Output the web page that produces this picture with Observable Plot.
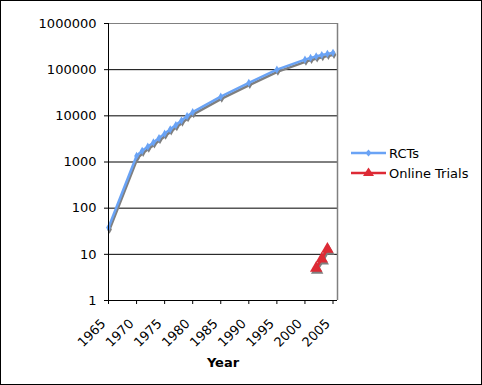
<!DOCTYPE html>
<html>
<head>
<meta charset="utf-8">
<script src="https://cdn.jsdelivr.net/npm/d3@7"></script>
<script src="https://cdn.jsdelivr.net/npm/@observablehq/plot@0.6"></script>
<style>
  html, body { margin: 0; padding: 0; background: #fff; }
  #wrap { position: relative; width: 482px; height: 385px; overflow: hidden; font-family: "DejaVu Sans", Verdana, sans-serif; }
  #border { position: absolute; left: 0; top: 0; width: 482px; height: 385px; box-sizing: border-box; border: 1px solid #000; pointer-events: none; }
  #legend { position: absolute; left: 350px; top: 143px; font-size: 13px; color: #000; }
  .item { display: flex; align-items: center; height: 20px; }
  .item svg { margin-right: 2px; }
</style>
</head>
<body>
<div id="wrap"><div id="border"></div></div>
<script>
// ---- data ----
const rctYears  = [1965, 1970, 1971, 1972, 1973, 1974, 1975, 1976, 1977, 1978, 1979, 1980, 1985, 1990, 1995, 2000, 2001, 2002, 2003, 2004, 2005];
const rctValues = [38, 1350, 1750, 2150, 2650, 3300, 4100, 5100, 6300, 7900, 9800, 12000, 26000, 52000, 100000, 165000, 180000, 193000, 207000, 220000, 232000];
const onlineYears  = [2002, 2003, 2004];
const onlineValues = [5, 8, 13];
const yTicks = [1, 10, 100, 1000, 10000, 100000, 1000000];
const xTicks = [1965, 1970, 1975, 1980, 1985, 1990, 1995, 2000, 2005];
const seriesNames = ["RCTs", "Online Trials"];
const seriesColors = ["#6aa3f5", "#dd2a35"];
const shadow = "#7f7f7f";

const rct = rctYears.map((y, i) => ({year: y, value: rctValues[i]}));
const online = onlineYears.map((y, i) => ({year: y, value: onlineValues[i]}));

const chart = Plot.plot({
  width: 482,
  height: 385,
  marginLeft: 108,
  marginRight: 145,
  marginTop: 23,
  marginBottom: 85,
  style: {fontFamily: "DejaVu Sans, Verdana, sans-serif", fontSize: "13px", color: "#000", background: "transparent"},
  x: {domain: [1965, 2005.8]},
  y: {type: "log", domain: [1, 1000000]},
  marks: [
    Plot.ruleY(yTicks.filter(d => d > 1 && d < 1000000), {stroke: "#000", strokeWidth: 1}),
    Plot.ruleY([1000000], {stroke: "#808080", strokeWidth: 1}),
    Plot.ruleX([2005.8], {stroke: "#808080", strokeWidth: 1.5}),
    // shadows
    Plot.line(rct, {x: "year", y: "value", stroke: shadow, strokeWidth: 2.5, dx: 1, dy: 2}),
    Plot.dot(rct, {x: "year", y: "value", symbol: "diamond", r: 2.5, fill: shadow, dx: 1, dy: 2}),
    Plot.line(online, {x: "year", y: "value", stroke: shadow, strokeWidth: 2.5, dx: 1, dy: 2}),
    Plot.dot(online, {x: "year", y: "value", symbol: "triangle", r: 4.6, fill: shadow, dx: 1, dy: 2}),
    // series
    Plot.line(rct, {x: "year", y: "value", stroke: seriesColors[0], strokeWidth: 2.5}),
    Plot.dot(rct, {x: "year", y: "value", symbol: "diamond", r: 2.5, fill: seriesColors[0]}),
    Plot.line(online, {x: "year", y: "value", stroke: seriesColors[1], strokeWidth: 2.5}),
    Plot.dot(online, {x: "year", y: "value", symbol: "triangle", r: 4.6, fill: seriesColors[1]}),
    // axes
    Plot.axisY({ticks: yTicks, tickFormat: d => String(d), tickSize: 4, tickPadding: 8, label: null}),
    Plot.axisX({ticks: xTicks, tickFormat: () => "", tickSize: 4, label: null}),
    Plot.axisX({ticks: xTicks, tickFormat: d => String(d), tickSize: 0, tickRotate: -45, tickPadding: 8, dx: -5, dy: 13, label: null}),
    Plot.ruleX([1965], {stroke: "#000", strokeWidth: 1}),
    Plot.ruleY([1], {stroke: "#000", strokeWidth: 1}),
    Plot.text(["Year"], {frameAnchor: "bottom", dy: 66, fontWeight: "bold", fontSize: 13, fill: "#000"})
  ]
});
chart.style.position = "absolute";
chart.style.left = "0px";
chart.style.top = "0px";
const wrap = document.getElementById("wrap");
wrap.insertBefore(chart, wrap.firstChild);

// legend
const legend = document.createElement("div");
legend.id = "legend";
seriesNames.forEach((name, i) => {
  const item = document.createElement("div");
  item.className = "item";
  const sym = i === 0
    ? `<path d="M18.5,6.5 L21.5,10 L18.5,13.5 L15.5,10 Z" fill="${seriesColors[i]}"/>`
    : `<path d="M18.5,4.5 L24,13 L13,13 Z" fill="${seriesColors[i]}"/>`;
  item.innerHTML = `<svg width="37" height="20"><line x1="1" x2="36" y1="10" y2="10" stroke="${seriesColors[i]}" stroke-width="2.5"/>${sym}</svg><span>${name}</span>`;
  legend.appendChild(item);
});
wrap.appendChild(legend);
</script>
</body>
</html>
